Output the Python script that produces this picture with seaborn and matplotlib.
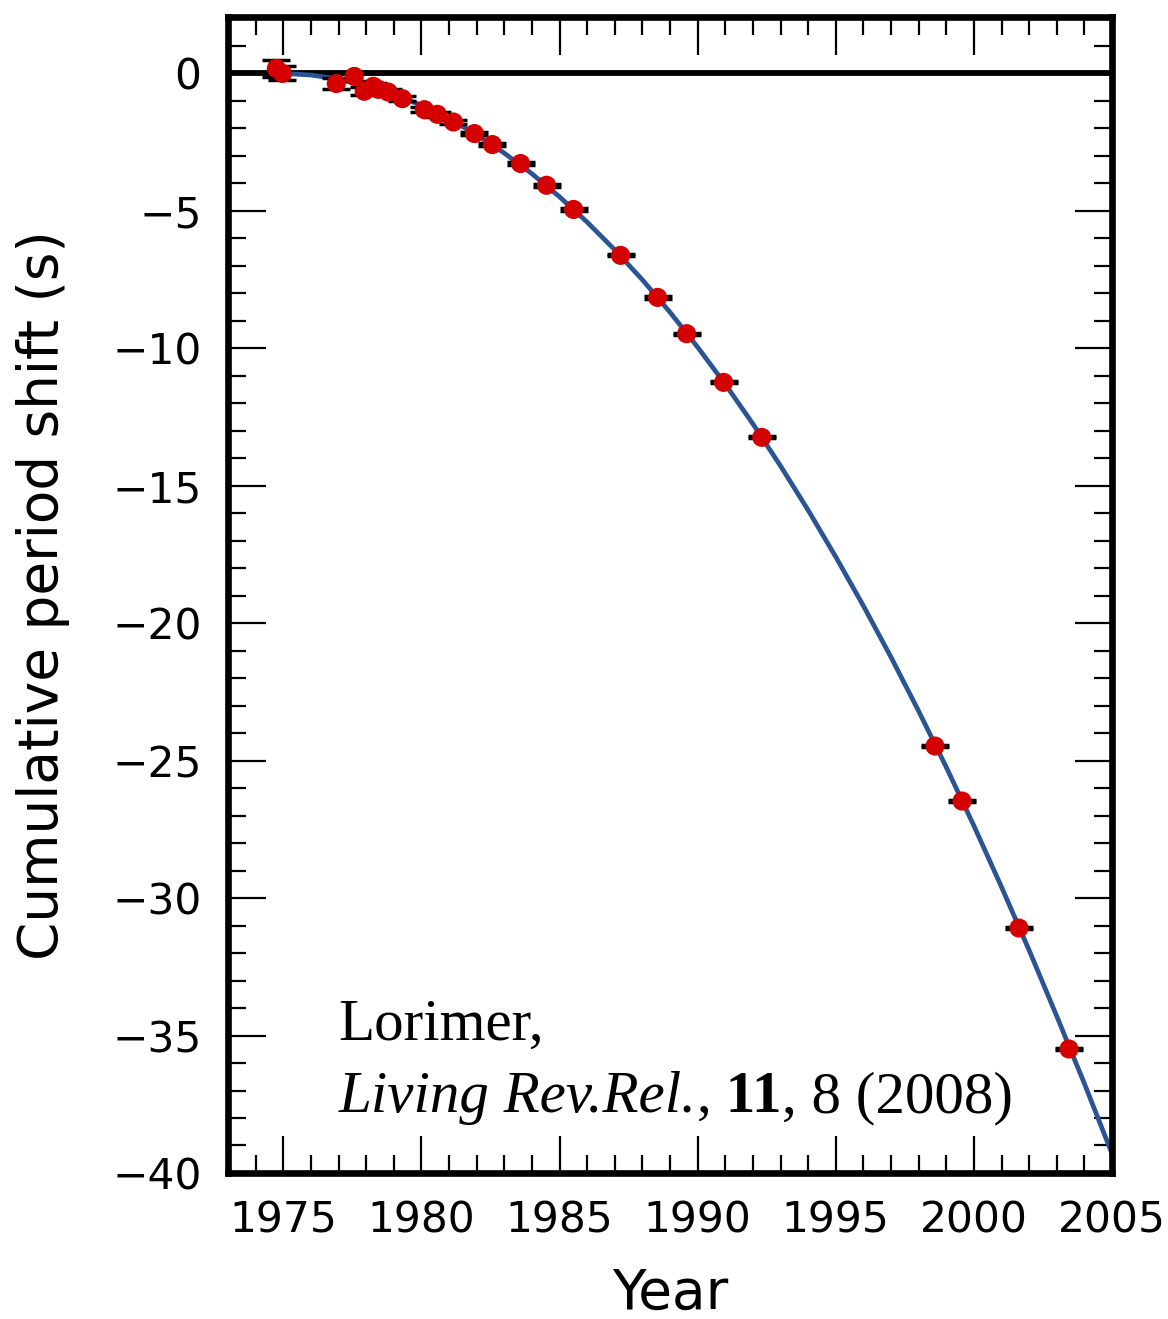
import numpy as np
import pandas as pd
import matplotlib
matplotlib.use("Agg")
import matplotlib.pyplot as plt
from matplotlib.ticker import MultipleLocator
import seaborn as sns

# ---- data ----
obs_year = [1974.75, 1974.97, 1976.92, 1977.57, 1977.93, 1978.26, 1978.44, 1978.80,
            1979.31, 1980.11, 1980.58, 1981.16, 1981.92, 1982.57, 1983.59, 1984.53,
            1985.51, 1987.21, 1988.55, 1989.60, 1990.94, 1992.32, 1998.59, 1999.57,
            2001.63, 2003.44]
obs_shift = [0.18, 0.00, -0.37, -0.11, -0.65, -0.47, -0.58, -0.68,
             -0.92, -1.32, -1.49, -1.77, -2.19, -2.59, -3.28, -4.07,
             -4.95, -6.62, -8.15, -9.47, -11.24, -13.24, -24.47, -26.47,
             -31.09, -35.49]
obs_err = [0.30, 0.25, 0.20, 0.15, 0.15, 0.12, 0.10, 0.10,
           0.08, 0.08, 0.08, 0.06, 0.06, 0.06, 0.05, 0.05,
           0.05, 0.04, 0.04, 0.04, 0.04, 0.04, 0.03, 0.03,
           0.03, 0.03]

gr_year = [1974.8, 1975, 1976, 1977, 1978, 1979, 1980, 1981, 1982, 1983, 1984, 1985,
           1986, 1987, 1988, 1989, 1990, 1991, 1992, 1993, 1994, 1995, 1996,
           1997, 1998, 1999, 2000, 2001, 2002, 2003, 2004, 2005]
gr_shift = [0.00, -0.002, -0.06, -0.21, -0.44, -0.76, -1.16, -1.65, -2.23, -2.90, -3.65, -4.49,
            -5.41, -6.42, -7.51, -8.69, -9.96, -11.31, -12.75, -14.28, -15.89, -17.59, -19.37,
            -21.24, -23.20, -25.24, -27.37, -29.60, -31.90, -34.30, -36.75, -39.30]

xticks = [1975, 1980, 1985, 1990, 1995, 2000, 2005]
yticks = [0, -5, -10, -15, -20, -25, -30, -35, -40]

obs = pd.DataFrame({"Year": obs_year, "Shift": obs_shift, "Err": obs_err})
gr = pd.DataFrame({"Year": gr_year, "Shift": gr_shift})

sns.set_theme(style="ticks")
plt.rcParams['font.family'] = ['DejaVu Sans']
plt.rcParams['text.color'] = 'black'
plt.rcParams['axes.labelcolor'] = 'black'
plt.rcParams['xtick.color'] = 'black'
plt.rcParams['ytick.color'] = 'black'

fig = plt.figure(figsize=(11.68, 13.19), dpi=100)
ax = fig.add_axes([0.1952, 0.1107, 0.9521 - 0.1952, 0.9871 - 0.1107])

ax.axhline(0, color="black", lw=4.2, zorder=1)
sns.lineplot(data=gr, x="Year", y="Shift", ax=ax, color="#2a5494", lw=3.4,
             sort=False, zorder=2)
ax.errorbar(obs["Year"], obs["Shift"], yerr=obs["Err"], fmt="none", ecolor="black",
            elinewidth=2, capsize=10, capthick=2.5, zorder=3)
sns.scatterplot(data=obs, x="Year", y="Shift", ax=ax, color="#d40000", s=190,
                edgecolor="none", zorder=4)

ax.set_xlim(1973, 2005)
ax.set_ylim(-40, 2.05)
ax.set_xticks(xticks)
ax.set_yticks(yticks)
ax.set_yticklabels(["0" if v == 0 else "\u2212" + str(abs(v)) for v in yticks])
ax.xaxis.set_minor_locator(MultipleLocator(1))
ax.yaxis.set_minor_locator(MultipleLocator(1))
ax.tick_params(which="both", direction="in", top=True, right=True, colors="black",
               labelsize=30.5)
ax.tick_params(which="major", length=27, width=1.6, pad=19)
ax.tick_params(which="minor", length=13, width=1.6)
for s in ax.spines.values():
    s.set_linewidth(4.8)
    s.set_color("black")

ax.set_xlabel("Year", fontsize=39.5, labelpad=18)
ax.set_ylabel("Cumulative period shift (s)", fontsize=39.5, labelpad=30)

serif = dict(family="Liberation Serif", fontsize=42.5, color="black", va="baseline",
             ha="left", transform=ax.transAxes)
ax.text(0.125, 0.115, "Lorimer,", **serif)

pieces = [("Living Rev.Rel.", "italic", "normal"), (",", "normal", "normal"),
          (" 11", "normal", "bold"), (", 8 (2008)", "normal", "normal")]
x = 0.125
fig.canvas.draw()
renderer = fig.canvas.get_renderer()
for txt, st, wt in pieces:
    t = ax.text(x, 0.0528, txt, style=st, weight=wt, **serif)
    bb = t.get_window_extent(renderer=renderer)
    x = ax.transAxes.inverted().transform((bb.x1, bb.y0))[0]

fig.savefig("out.png", dpi=100)
